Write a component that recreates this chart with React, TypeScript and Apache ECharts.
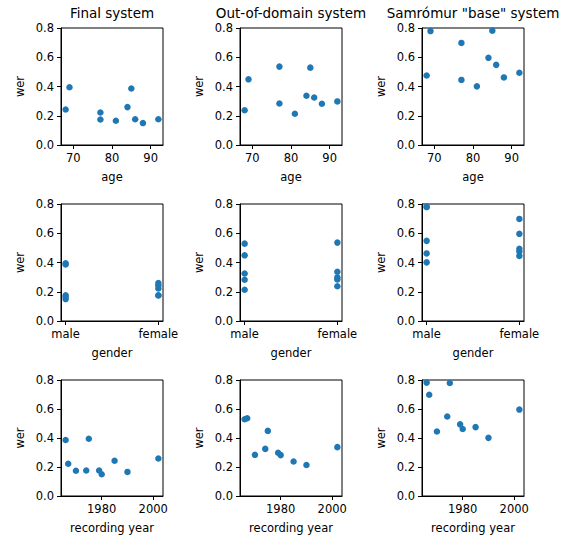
import React, { useEffect, useRef } from "react";
import * as echarts from "echarts";

const ages = [68, 69, 77, 77, 81, 84, 85, 86, 88, 92];
const genders = ["female", "male", "female", "female", "male", "female", "male", "male", "male", "female"];
const years = [1985, 1975, 1967, 1970, 1990, 2002, 1966, 1974, 1980, 1979];
const genderCategories = ["male", "female"];

const werFinal = [0.243, 0.395, 0.222, 0.174, 0.166, 0.259, 0.386, 0.176, 0.15, 0.176];
const werOutOfDomain = [0.238, 0.449, 0.536, 0.284, 0.214, 0.337, 0.529, 0.325, 0.282, 0.298];
const werSamromur = [0.475, 0.779, 0.698, 0.445, 0.401, 0.596, 0.782, 0.548, 0.462, 0.494];

const systemTitles = ["Final system", "Out-of-domain system", "Samrómur \"base\" system"];
const ageTicks = [70, 80, 90];
const genderTicks = [0, 1];
const yearTicks = [1980, 2000];

const FONT = "DejaVu Sans";
const COLOR = "#1f77b4";

export default function App() {
  const ref = useRef<HTMLDivElement>(null);
  useEffect(() => {
    if (!ref.current) return;
    const chart = echarts.init(ref.current, null, { renderer: "svg" });
    const lefts = [61, 240, 422];
    const tops = [28, 204, 380];
    const W = 102;
    const H = 117;
    const systems = [werFinal, werOutOfDomain, werSamromur];
    const genderIdx = genders.map((g) => genderCategories.indexOf(g));
    const rowDefs = [
      { name: "age", xs: ages, min: 66.8, max: 93.2, ticks: ageTicks, fmt: (v: number) => String(v) },
      { name: "gender", xs: genderIdx, min: -0.05, max: 1.05, ticks: genderTicks, fmt: (v: number) => genderCategories[Math.round(v)] },
      { name: "recording year", xs: years, min: 1964.2, max: 2003.8, ticks: yearTicks, fmt: (v: number) => String(v) },
    ];
    const grid: any[] = [];
    const xAxis: any[] = [];
    const yAxis: any[] = [];
    const series: any[] = [];
    const title: any[] = [];
    let k = 0;
    rowDefs.forEach((row, r) => {
      systems.forEach((wer, c) => {
        grid.push({
          left: lefts[c], top: tops[r], width: W, height: H,
          show: true, borderColor: "#000", borderWidth: 1, backgroundColor: "transparent",
        });
        xAxis.push({
          type: "value", gridIndex: k, min: row.min, max: row.max,
          name: row.name, nameLocation: "middle", nameGap: 26,
          nameTextStyle: { fontFamily: FONT, fontSize: 11.5, color: "#000" },
          axisLine: { show: true, onZero: false, lineStyle: { color: "#000", width: 1 } },
          axisTick: { show: true, length: 4, customValues: row.ticks, lineStyle: { color: "#000" } },
          axisLabel: { show: true, margin: 7, customValues: row.ticks, formatter: row.fmt, fontFamily: FONT, fontSize: 11.5, color: "#000" },
          splitLine: { show: false },
        });
        yAxis.push({
          type: "value", gridIndex: k, min: 0, max: 0.8, interval: 0.2,
          name: "wer", nameLocation: "middle", nameGap: 35,
          nameTextStyle: { fontFamily: FONT, fontSize: 11.5, color: "#000" },
          axisLine: { show: true, onZero: false, lineStyle: { color: "#000", width: 1 } },
          axisTick: { show: true, length: 4, lineStyle: { color: "#000" } },
          axisLabel: { show: true, margin: 7, formatter: (v: number) => v.toFixed(1), fontFamily: FONT, fontSize: 11.5, color: "#000" },
          splitLine: { show: false },
        });
        series.push({
          type: "scatter", xAxisIndex: k, yAxisIndex: k,
          symbol: "circle", symbolSize: 6.5,
          itemStyle: { color: COLOR, opacity: 1 },
          data: row.xs.map((x, i) => [x, wer[i]]),
        });
        if (r === 0) {
          title.push({
            text: systemTitles[c], left: lefts[c] + W / 2, top: 6, padding: 0, textAlign: "center",
            textStyle: { fontFamily: FONT, fontSize: 13.5, lineHeight: 14, fontWeight: "normal", color: "#000" },
          });
        }
        k++;
      });
    });
    chart.setOption({ animation: false, title, grid, xAxis, yAxis, series });
    return () => chart.dispose();
  }, []);
  return <div ref={ref} style={{ position: "fixed", left: 0, top: 0, width: 568, height: 535, background: "#fff" }} />;
}
